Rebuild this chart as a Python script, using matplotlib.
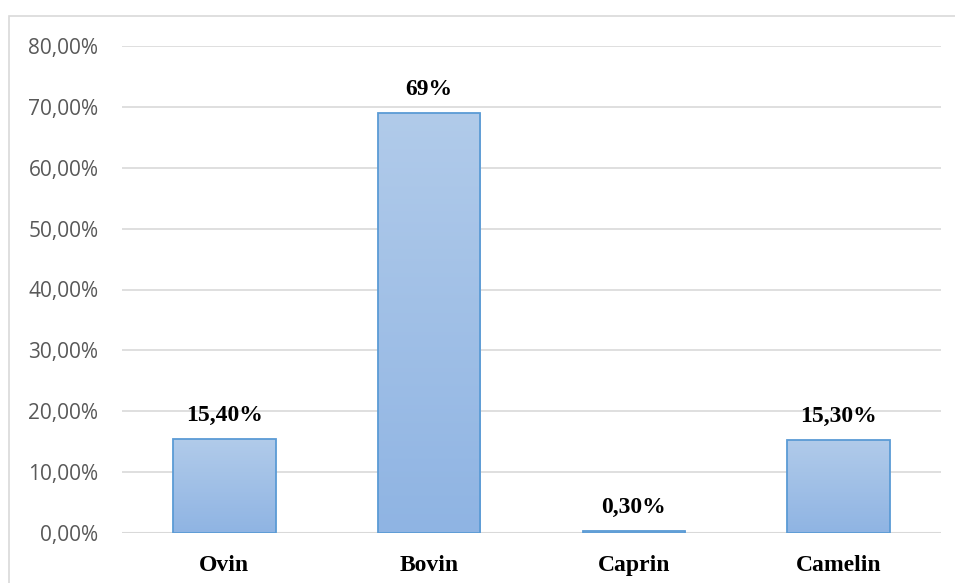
import numpy as np
import matplotlib.pyplot as plt
from matplotlib.colors import LinearSegmentedColormap
from matplotlib.patches import Rectangle

# Data
categories = ["Ovin", "Bovin", "Caprin", "Camelin"]
values = [15.4, 69.0, 0.3, 15.3]
value_labels = ["15,40%", "69%", "0,30%", "15,30%"]
yticks = [0, 10, 20, 30, 40, 50, 60, 70, 80]

fig = plt.figure(figsize=(9.55, 5.83), dpi=100)
ax = fig.add_axes([122 / 955, 50 / 583, (941 - 122) / 955, (533 - 46) / 583])

# Outer chart border (light gray, runs off the right and bottom edges)
fig.patches.append(Rectangle((9 / 955, -0.1), 1.2, 1 - 16 / 583 + 0.1,
                             transform=fig.transFigure, fill=False,
                             edgecolor="#d9d9d9", linewidth=1.2))

x = np.arange(len(categories))
bars = ax.bar(x, values, width=0.5, color="none", edgecolor="#5b9bd5",
              linewidth=1.3, zorder=3)

# gradient fill inside each bar
cmap = LinearSegmentedColormap.from_list("grad", ["#8fb4e3", "#b1cbea"])
grad = np.linspace(0, 1, 256).reshape(-1, 1)
for b in bars:
    x0, w, h = b.get_x(), b.get_width(), b.get_height()
    im = ax.imshow(grad, cmap=cmap, origin="lower", aspect="auto",
                   extent=[x0, x0 + w, 0, h], zorder=2)
    im.set_clip_path(b)

for xi, v, lab in zip(x, values, value_labels):
    ax.text(xi, v + 2.2, lab, ha="center", va="bottom", fontsize=17,
            fontweight="bold", family="Liberation Serif", color="black")

ax.set_xlim(-0.5, len(categories) - 0.5)
ax.set_ylim(0, 80)
ax.set_yticks(yticks)
ax.set_yticklabels([f"{t},00%" for t in yticks], family="Open Sans",
                   fontsize=15, color="#595959")
ax.set_xticks(x)
ax.set_xticklabels(categories, family="Liberation Serif", fontsize=17,
                   fontweight="bold")
ax.tick_params(axis="both", length=0)
ax.tick_params(axis="y", pad=17)
ax.tick_params(axis="x", pad=16)
ax.grid(axis="y", color="#d9d9d9", linewidth=1.2, zorder=0)
for s in ax.spines.values():
    s.set_visible(False)
ax.axhline(0, color="#d9d9d9", linewidth=1.5, zorder=1)

fig.savefig("out.png", dpi=100)
